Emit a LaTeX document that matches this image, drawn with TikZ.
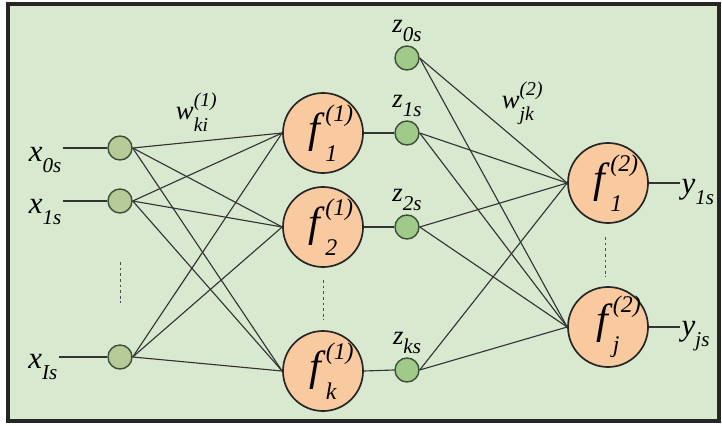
\documentclass[tikz,border=0pt]{standalone}
\usepackage{fontspec}
\setmainfont{Liberation Serif}
\usepackage{tikz}
\usetikzlibrary{positioning,calc}

\definecolor{bgcol}{RGB}{216,233,208}
\definecolor{peach}{RGB}{249,201,160}
\definecolor{incol}{RGB}{182,202,152}
\definecolor{zcol}{RGB}{160,202,138}
\definecolor{rimcol}{RGB}{60,80,55}

% italic label with lowered index
\newcommand{\varlbl}[2]{\textit{#1}\raisebox{-0.35em}{\fontsize{15}{16}\selectfont\textit{#2}}}
% letter with layer index on top and unit index below
\newcommand{\stklbl}[4]{\textit{#1}\rlap{\raisebox{0.5em}{\fontsize{#4}{#4}\selectfont\textit{(#2)}}}\raisebox{-0.45em}{\fontsize{#4}{#4}\selectfont\textit{#3}}}

\begin{document}
\begin{tikzpicture}[
            x=0.025cm, y=-0.025cm,
            every node/.style={font=\rmfamily\fontsize{22}{24}\selectfont},
            sm/.style={circle, draw=rimcol, line width=1pt, minimum size=0.6cm, inner sep=0pt},
            big/.style={circle, draw=black!85, line width=1.2pt, fill=peach, minimum size=2cm, inner sep=0pt, font=\rmfamily\fontsize{30}{32}\selectfont},
            lbl/.style={inner sep=1pt},
            zl/.style={inner sep=0pt, font=\rmfamily\fontsize{19}{20}\selectfont},
            wire/.style={draw=black!80, line width=0.8pt},
            vdots/.style={draw=black!70, line width=0.7pt, dash pattern=on 2pt off 2pt},
        ]
            \useasboundingbox (0,0) rectangle (722,426);
            \draw[fill=bgcol, draw=black!85, line width=2.2pt] (8,4) rectangle (719,421);

            % inputs
            \node[sm, fill=incol] (i0) at (120,148) {};
            \node[sm, fill=incol] (i1) at (120,201) {};
            \node[sm, fill=incol] (iI) at (120,357) {};
            \node[lbl, anchor=east] (lx0) at (63,160) {\varlbl{x}{0s}};
            \node[lbl, anchor=east] (lx1) at (63,212) {\varlbl{x}{1s}};
            \node[lbl, anchor=east] (lxI) at (59,367) {\varlbl{x}{Is}};

            % hidden layer
            \node[big] (h1) at (323,133) {\stklbl{f}{1}{1}{17}};
            \node[big] (h2) at (323,227) {\stklbl{f}{1}{2}{17}};
            \node[big] (hk) at (323,371) {\stklbl{f}{1}{k}{17}};

            % hidden outputs
            \node[sm, fill=zcol] (z0) at (407,58) {};
            \node[sm, fill=zcol] (z1) at (407,133) {};
            \node[sm, fill=zcol] (z2) at (407,227) {};
            \node[sm, fill=zcol] (zk) at (407,370) {};
            \node[zl, above=2pt of z0] (lz0) {\varlbl{z}{0s}};
            \node[zl, above=2pt of z1] (lz1) {\varlbl{z}{1s}};
            \node[zl, above=2pt of z2] (lz2) {\varlbl{z}{2s}};
            \node[zl, above=2pt of zk] (lzk) {\varlbl{z}{ks}};

            % output layer
            \node[big] (o1) at (608,183) {\stklbl{f}{2}{1}{17}};
            \node[big] (oj) at (608,327) {\stklbl{f}{2}{j}{17}};
            \node[lbl, anchor=west] (ly1) at (680,192) {\varlbl{y}{1s}};
            \node[lbl, anchor=west] (lyj) at (680,336) {\varlbl{y}{js}};

            % weights
            \node[zl] (w1) at (192,112) {\stklbl{w}{1}{ki}{14}};
            \node[zl] (w2) at (518,103) {\stklbl{w}{2}{jk}{14}};

            % input wires
            \draw[wire] (lx0.east |- i0) -- (i0);
            \draw[wire] (lx1.east |- i1) -- (i1);
            \draw[wire] (lxI.east |- iI) -- (iI);

            \draw[wire] (i0.east) -- (h1.west);
            \draw[wire] (i0.east) -- (h2.west);
            \draw[wire] (i0.east) -- (hk.west);
            \draw[wire] (i1.east) -- (h1.west);
            \draw[wire] (i1.east) -- (h2.west);
            \draw[wire] (i1.east) -- (hk.west);
            \draw[wire] (iI.east) -- (h1.west);
            \draw[wire] (iI.east) -- (h2.west);
            \draw[wire] (iI.east) -- (hk.west);

            \draw[wire] (h1.east) -- (z1.west);
            \draw[wire] (h2.east) -- (z2.west);
            \draw[wire] (hk.east) -- (zk.west);

            \draw[wire] (z0.east) -- (o1.west);
            \draw[wire] (z0.east) -- (oj.west);
            \draw[wire] (z1.east) -- (o1.west);
            \draw[wire] (z1.east) -- (oj.west);
            \draw[wire] (z2.east) -- (o1.west);
            \draw[wire] (z2.east) -- (oj.west);
            \draw[wire] (zk.east) -- (o1.west);
            \draw[wire] (zk.east) -- (oj.west);

            \draw[wire] (o1.east) -- (ly1.west |- o1);
            \draw[wire] (oj.east) -- (lyj.west |- oj);

            % ellipsis marks
            \coordinate (d1a) at (120,262);
            \coordinate (d1b) at (120,303);
            \coordinate (d2a) at (323,280);
            \coordinate (d2b) at (323,320);
            \coordinate (d3a) at (605,237);
            \coordinate (d3b) at (605,277);
            \draw[vdots] (d1a) -- (d1b);
            \draw[vdots] (d2a) -- (d2b);
            \draw[vdots] (d3a) -- (d3b);
        \end{tikzpicture}
\end{document}
